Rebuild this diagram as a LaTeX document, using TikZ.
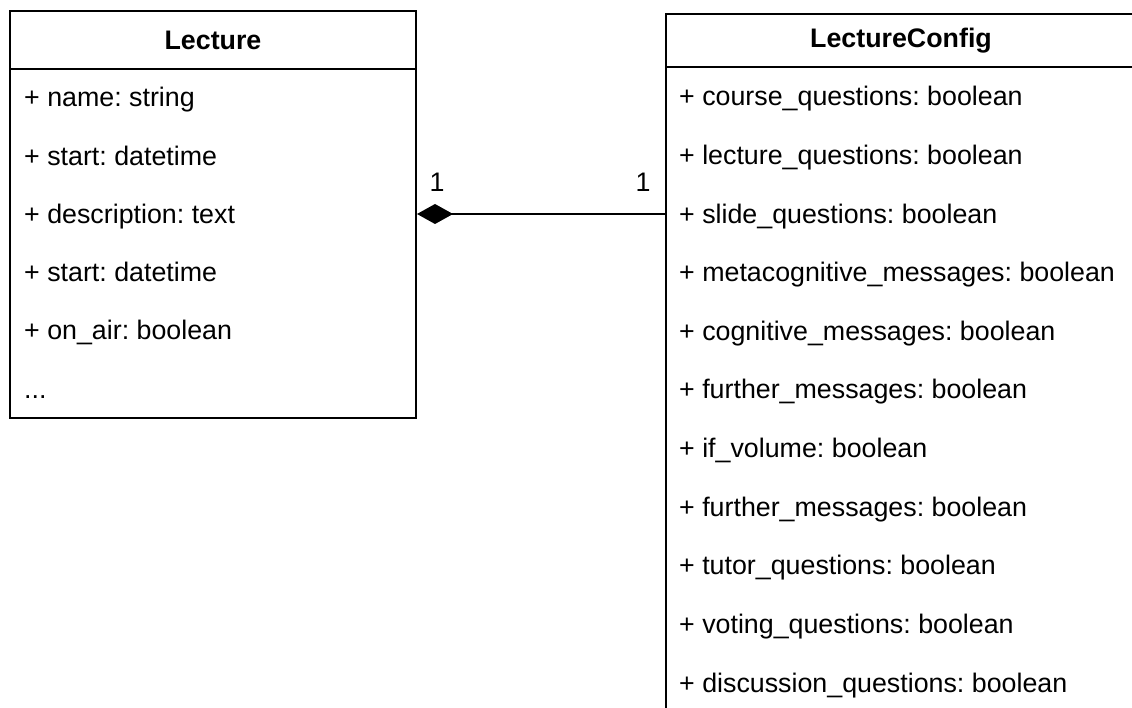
\documentclass[tikz,border=0pt]{standalone}
\usepackage{fontspec}
\setmainfont{Liberation Sans}
\usetikzlibrary{positioning,arrows.meta}
\frenchspacing
\newcommand{\umlsize}{\fontsize{26.8}{32}\selectfont}
\tikzset{
  umlbox/.style={draw=black,line width=2pt,inner sep=0pt},
  umlhead/.style={umlbox,font=\umlsize\bfseries,anchor=north},
  umlattr/.style={anchor=base west,inner sep=0pt},
  mult/.style={inner sep=1pt},
  compose/.style={-{Diamond[length=36pt,width=20pt]},line width=2pt},
}
\begin{document}
\begin{tikzpicture}[x=1pt,y=-1pt,font=\umlsize]
  \useasboundingbox[clip] (0,0) rectangle (1132,708);
  % Lecture
  \node[umlbox,minimum width=406pt,minimum height=406pt] (lec) at (213,214.5) {};
  \node[umlhead,minimum width=406pt,minimum height=58pt] (lechd) at (lec.north) {Lecture};
  \foreach \i/\t in {1/+ name: string,2/+ start: datetime,3/+ description: text,
      4/+ start: datetime,5/+ on\_air: boolean,6/{.{}.{}.}}
    \node[umlattr] (lec-\i) at (24,{107+58.2*(\i-1)}) {\t};
  % LectureConfig
  \node[umlbox,minimum width=470pt,minimum height=720pt,anchor=north west] (cfg) at (665,13) {};
  \node[umlhead,minimum width=470pt,minimum height=53pt] (cfghd) at (cfg.north) {LectureConfig};
  \foreach \i/\t in {1/course\_questions,2/lecture\_questions,3/slide\_questions,
      4/metacognitive\_messages,5/cognitive\_messages,6/further\_messages,
      7/if\_volume,8/further\_messages,9/tutor\_questions,10/voting\_questions,
      11/discussion\_questions}
    \node[umlattr] (cfg-\i) at (679,{106+58.6*(\i-1)}) {+ \t: boolean};
  % composition
  \draw[compose] (cfg.west |- 0,214) -- (lec.east |- 0,214);
  \node[mult] (mlec) at (437,182) {1};
  \node[mult] (mcfg) at (643,182) {1};
\end{tikzpicture}
\end{document}
